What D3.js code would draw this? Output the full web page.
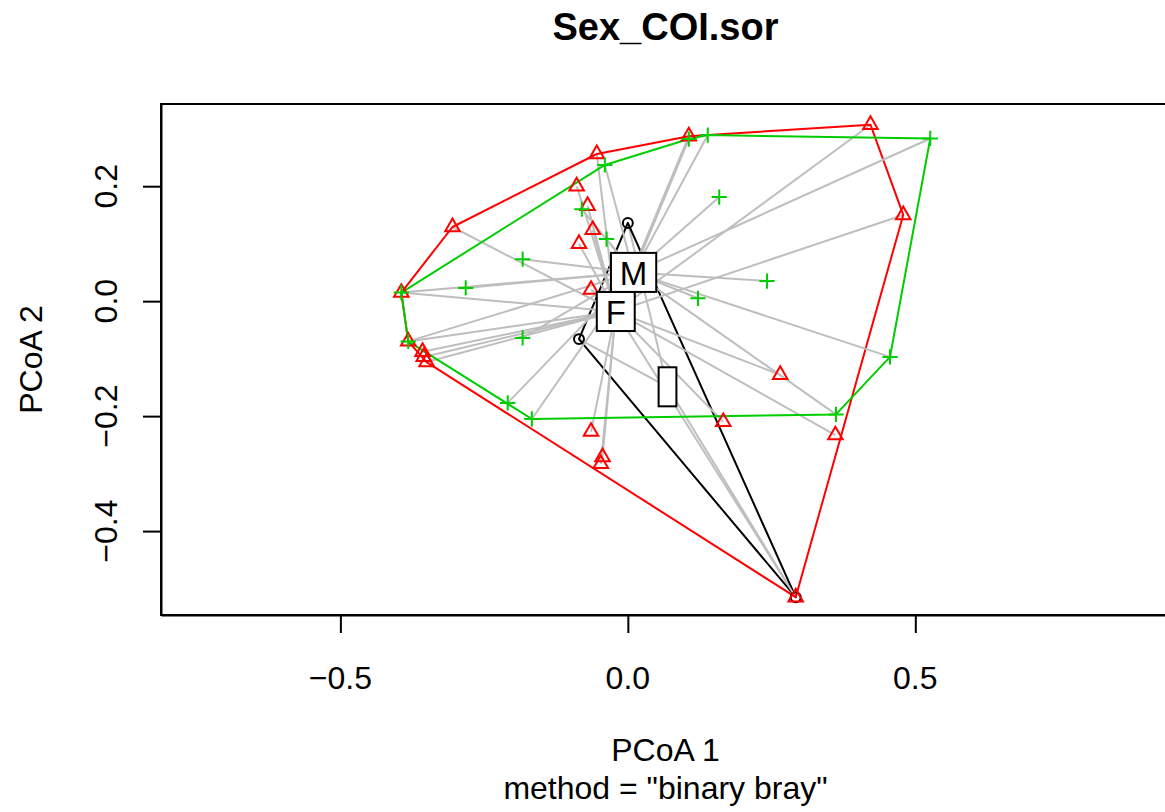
<!DOCTYPE html>
<html>
<head>
<meta charset="utf-8">
<script src="https://cdn.jsdelivr.net/npm/d3@7"></script>
<style>
  body { margin: 0; background: #ffffff; }
  text { font-family: "Liberation Sans", Arial, Helvetica, sans-serif; }
</style>
</head>
<body>
<svg id="chart" width="1165" height="812"></svg>
<script>
// Group levels in drawing order, with their colours and point symbols
const groups = ["", "F", "M"];
const groupColors = ["#000000", "#FF0000", "#00CD00"];
const groupShapes = ["circle", "triangle", "plus"];

// PCoA site scores (axis 1 / axis 2) for each group
const sitesBlankX = [0.000, -0.085, 0.292];
const sitesBlankY = [0.136, -0.066, -0.515];

const sitesFX = [-0.054, 0.106, 0.422, 0.479, -0.305, -0.089, -0.070, -0.061, -0.085, -0.394, -0.064,
                 -0.382, -0.357, -0.355, -0.350, -0.064, -0.044, -0.047, 0.265, 0.166, 0.361, 0.292];
const sitesFY = [0.256, 0.287, 0.307, 0.150, 0.129, 0.200, 0.166, 0.124, 0.100, 0.015, 0.020,
                 -0.070, -0.088, -0.097, -0.106, -0.227, -0.271, -0.283, -0.128, -0.210, -0.233, -0.515];

const sitesMX = [-0.040, -0.080, -0.037, -0.183, -0.282, -0.394, 0.106, 0.139, 0.526, 0.159, 0.242,
                 0.122, -0.183, -0.382, -0.209, -0.167, 0.362, 0.456];
const sitesMY = [0.237, 0.160, 0.108, 0.073, 0.023, 0.015, 0.282, 0.289, 0.283, 0.181, 0.035,
                 0.005, -0.064, -0.070, -0.177, -0.205, -0.197, -0.097];

// Group centroids (same order as groups)
const centroidX = [0.069, -0.021, 0.010];
const centroidY = [-0.149, -0.018, 0.050];

// Axis ticks and plotting limits
const xTicks = [-0.5, 0.0, 0.5];
const yTicks = [-0.4, -0.2, 0.0, 0.2];
const xLim = [-0.812, 0.943];
const yLim = [-0.546, 0.343];

const chartTitle = "Sex_COI.sor";
const xTitle = "PCoA 1";
const yTitle = "PCoA 2";
const subTitle = 'method = "binary bray"';

// ---------------------------------------------------------------
const W = 1165, H = 812;
const plotBox = { left: 161, right: 1170, top: 104, bottom: 615 };
const baseFont = 32;
const lw = 2;

const svg = d3.select("#chart");
svg.append("rect").attr("width", W).attr("height", H).attr("fill", "#ffffff");

const x = d3.scaleLinear().domain(xLim).range([plotBox.left, plotBox.right]);
const y = d3.scaleLinear().domain(yLim).range([plotBox.bottom, plotBox.top]);

const sitesX = [sitesBlankX, sitesFX, sitesMX];
const sitesY = [sitesBlankY, sitesFY, sitesMY];
const sites = groups.map((g, gi) => sitesX[gi].map((v, i) => ({ g: gi, x: v, y: sitesY[gi][i] })));

// clip to plotting region
svg.append("defs").append("clipPath").attr("id", "plotClip")
  .append("rect")
  .attr("x", plotBox.left).attr("y", plotBox.top)
  .attr("width", plotBox.right - plotBox.left).attr("height", plotBox.bottom - plotBox.top);

const plot = svg.append("g").attr("clip-path", "url(#plotClip)");

// segments to centroids, then convex hull, per group
groups.forEach((g, gi) => {
  const cx = x(centroidX[gi]), cy = y(centroidY[gi]);
  plot.append("g").selectAll("line")
    .data(sites[gi]).join("line")
    .attr("x1", cx).attr("y1", cy)
    .attr("x2", d => x(d.x)).attr("y2", d => y(d.y))
    .attr("stroke", "#BEBEBE").attr("stroke-width", lw);

  const hull = d3.polygonHull(sites[gi].map(d => [x(d.x), y(d.y)]));
  if (hull) {
    plot.append("path")
      .attr("d", "M" + hull.map(p => p.join(",")).join("L") + "Z")
      .attr("fill", "none")
      .attr("stroke", groupColors[gi])
      .attr("stroke-width", lw)
      .attr("stroke-linejoin", "round");
  }
});

// point symbols (R pch 1 / 2 / 3 geometry)
const rad = 5.4;
function symbolPath(shape, px, py) {
  if (shape === "triangle") {
    const r = 1.5551 * rad, xc = 1.3468 * rad, yc = 0.7776 * rad;
    return `M${px},${py - r}L${px + xc},${py + yc}L${px - xc},${py + yc}Z`;
  }
  if (shape === "plus") {
    const h = 1.4142 * rad;
    return `M${px - h},${py}L${px + h},${py}M${px},${py - h}L${px},${py + h}`;
  }
  return null;
}

const pts = plot.append("g");
groups.forEach((g, gi) => {
  sites[gi].forEach(d => {
    const px = x(d.x), py = y(d.y);
    if (groupShapes[gi] === "circle") {
      pts.append("circle").attr("cx", px).attr("cy", py).attr("r", rad * 0.92)
        .attr("fill", "none").attr("stroke", groupColors[gi]).attr("stroke-width", lw);
    } else {
      pts.append("path").attr("d", symbolPath(groupShapes[gi], px, py))
        .attr("fill", "none").attr("stroke", groupColors[gi]).attr("stroke-width", lw);
    }
  });
});

// centroid labels in white boxes
const labelLayer = svg.append("g");
const probe = labelLayer.append("text").attr("font-size", baseFont).text("m");
const emW = probe.node().getComputedTextLength();
probe.remove();
const boxH = 1.22 * baseFont;

groups.forEach((g, gi) => {
  const cx = x(centroidX[gi]), cy = y(centroidY[gi]);
  const grp = labelLayer.append("g");
  const rect = grp.append("rect");
  const t = grp.append("text")
    .attr("x", cx).attr("y", cy + 0.38 * baseFont)
    .attr("text-anchor", "middle")
    .attr("font-size", baseFont + 1)
    .attr("fill", "#000")
    .text(g);
  const tw = g ? t.node().getComputedTextLength() : 0;
  const bw = tw + emW / 1.5;
  rect.attr("x", cx - bw / 2).attr("y", cy - boxH / 2)
    .attr("width", bw).attr("height", boxH)
    .attr("fill", "#ffffff").attr("stroke", "#000").attr("stroke-width", lw);
});

// axes
const fmt = v => (v < 0 ? "\u2212" : "") + Math.abs(v).toFixed(1);

const xAxis = svg.append("g")
  .attr("transform", `translate(0,${plotBox.bottom})`)
  .call(d3.axisBottom(x).tickValues(xTicks).tickSize(18).tickSizeOuter(0).tickFormat(""));
xAxis.selectAll("line").attr("stroke", "#000").attr("stroke-width", lw);
xAxis.select(".domain").attr("stroke", "#000").attr("stroke-width", lw);

svg.append("g").selectAll("text")
  .data(xTicks).join("text")
  .attr("x", d => x(d)).attr("y", 689)
  .attr("text-anchor", "middle")
  .attr("font-size", baseFont)
  .text(fmt);

const yAxis = svg.append("g")
  .attr("transform", `translate(${plotBox.left},0)`)
  .call(d3.axisLeft(y).tickValues(yTicks).tickSize(18).tickSizeOuter(0).tickFormat(""));
yAxis.selectAll("line").attr("stroke", "#000").attr("stroke-width", lw);
yAxis.select(".domain").attr("stroke", "#000").attr("stroke-width", lw);

svg.append("g").selectAll("text")
  .data(yTicks).join("text")
  .attr("transform", d => `translate(117,${y(d)}) rotate(-90)`)
  .attr("text-anchor", "middle")
  .attr("font-size", baseFont)
  .text(fmt);

// frame
svg.append("rect")
  .attr("x", plotBox.left).attr("y", plotBox.top)
  .attr("width", plotBox.right - plotBox.left).attr("height", plotBox.bottom - plotBox.top)
  .attr("fill", "none").attr("stroke", "#000").attr("stroke-width", lw);

// titles
const midX = (plotBox.left + plotBox.right) / 2;
const midY = (plotBox.top + plotBox.bottom) / 2;

svg.append("text")
  .attr("x", midX).attr("y", 40)
  .attr("text-anchor", "middle")
  .attr("font-size", 38).attr("font-weight", "bold")
  .text(chartTitle);

svg.append("text")
  .attr("x", midX).attr("y", 761)
  .attr("text-anchor", "middle")
  .attr("font-size", baseFont)
  .text(xTitle);

svg.append("text")
  .attr("x", midX).attr("y", 799)
  .attr("text-anchor", "middle")
  .attr("font-size", baseFont)
  .text(subTitle);

svg.append("text")
  .attr("transform", `translate(42,${midY}) rotate(-90)`)
  .attr("text-anchor", "middle")
  .attr("font-size", baseFont)
  .text(yTitle);
</script>
</body>
</html>
